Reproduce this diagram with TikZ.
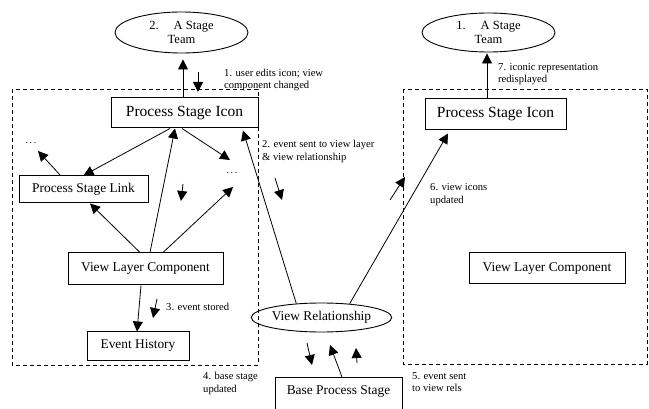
\documentclass[tikz,border=0pt]{standalone}
\usepackage{fontspec}
\setmainfont{Liberation Serif}
\usetikzlibrary{arrows.meta,shapes.geometric}
\begin{document}
\begin{tikzpicture}[x=1pt,y=-1pt,
  boxnode/.style={draw, line width=1pt, inner sep=0pt, font=\fontsize{13.4}{15}\selectfont},
  iconfont/.style={font=\fontsize{15.5}{17}\selectfont},
  ellnode/.style={draw, ellipse, line width=0.9pt, inner sep=0pt, align=center, font=\fontsize{12.5}{14}\selectfont},
  dashbox/.style={dash pattern=on 4pt off 3pt, line width=0.9pt},
  arr/.style={line width=0.8pt, -{Triangle[length=10pt,width=10pt]}},
  lbl/.style={anchor=west, align=left, inner sep=0pt, font=\fontsize{10.6}{12.4}\selectfont},
  dots/.style={inner sep=0pt, font=\fontsize{10}{12}\selectfont}]
\useasboundingbox (0,0) rectangle (649,409);
% dashed layer frames
\draw[dashbox] (12,89) rectangle (258,365);
\draw[dashbox] (403,89) rectangle (647,364);
% nodes
\node[ellnode, minimum width=133pt, minimum height=41pt] (teamL) at (181.5,32.5) {2.\hspace{15pt}A Stage\\Team};
\node[ellnode, minimum width=133pt, minimum height=39pt] (teamR) at (488.5,32.5) {1.\hspace{15pt}A Stage\\Team};
\node[boxnode, iconfont, minimum width=147pt, minimum height=30pt, fill=white] (iconL) at (184.5,113) {Process Stage Icon};
\node[boxnode, iconfont, minimum width=141pt, minimum height=31pt] (iconR) at (495.5,114.5) {Process Stage Icon};
\node[boxnode, minimum width=129pt, minimum height=27pt] (link) at (83.5,189.5) {Process Stage Link};
\node[boxnode, minimum width=155pt, minimum height=32pt] (vlcL) at (145.5,269) {View Layer Component};
\node[boxnode, minimum width=156pt, minimum height=31pt] (vlcR) at (547,268.5) {View Layer Component};
\node[boxnode, minimum width=102pt, minimum height=28pt] (hist) at (138,346) {Event History};
\node[ellnode, font=\fontsize{13.4}{15}\selectfont, minimum width=123pt, minimum height=29pt] (vrel) at (321.5,317.5) {View Relationship};
\node[boxnode, minimum width=127pt, anchor=north, text height=11pt, text depth=40pt, inner ysep=6pt] (base) at (338.5,377) {Base Process Stage};
\node[dots] (dotsL) at (31,143) {.\,.\,.};
\node[dots] (dotsR) at (232,173) {.\,.\,.};
% labels
\node[lbl] (l1) at (224,80) {1. user edits icon; view\\component changed};
\node[lbl] (l2) at (262,151.5) {2. event sent to view layer\\\& view relationship};
\node[lbl] (l3) at (166,307) {3. event stored};
\node[lbl] (l4) at (203,383.5) {4. base stage\\updated};
\node[lbl] (l5) at (412,382) {5. event sent\\to view rels};
\node[lbl] (l6) at (430,194.5) {6. view icons\\updated};
\node[lbl] (l7) at (498,74) {7. iconic representation\\redisplayed};
% free arrow ends
\coordinate (s1a) at (198,72);  \coordinate (s1b) at (198,92);
\coordinate (s2a) at (183,184); \coordinate (s2b) at (181,201);
\coordinate (s3a) at (157,299); \coordinate (s3b) at (153,318);
\coordinate (s4a) at (275,178); \coordinate (s4b) at (282,200);
\coordinate (s5a) at (390,200); \coordinate (s5b) at (405,177);
\coordinate (s6a) at (307,343); \coordinate (s6b) at (312,365);
\coordinate (s7a) at (357,363); \coordinate (s7b) at (356,348);
\coordinate (tL) at (38,151);
\coordinate (tR1) at (230,160);
\coordinate (tR2) at (233,187);
\coordinate (tB) at (330,345);
% connectors
\draw[arr, shorten >=6pt] ([xshift=-1.5pt]iconL.north) -- ([xshift=-1.5pt]iconL.north |- teamL.south);
\draw[arr, shorten >=1pt] ([xshift=-8.5pt]iconR.north) -- ([xshift=-8.5pt]iconR.north |- teamR.south);
\draw[arr] ([xshift=-14.5pt]iconL.south) -- (link.north);
\draw[arr] ([xshift=-2.5pt]iconL.south) -- (tR1);
\draw[arr] ([xshift=42pt]link.north west) -- (tL);
\draw[arr] ([xshift=4.5pt]vlcL.north) -- ([xshift=-9.5pt]iconL.south);
\draw[arr] ([xshift=-5.5pt]vlcL.north) -- ([xshift=6.5pt]link.south);
\draw[arr] ([xshift=17.5pt]vlcL.north) -- (tR2);
\draw[arr] ([xshift=-4.5pt]vlcL.south) -- ([xshift=-1pt]hist.north);
\draw[arr] (vrel.151) -- ([xshift=58.5pt,yshift=-2pt]iconL.south);
\draw[arr] (vrel.26) -- ([xshift=-47.5pt,yshift=-3pt]iconR.south);
\draw[arr] ([xshift=3.5pt]base.north) -- (tB);
% small event arrows
\foreach \i in {1,...,7} {\draw[arr] (s\i a) -- (s\i b);}
\end{tikzpicture}
\end{document}
